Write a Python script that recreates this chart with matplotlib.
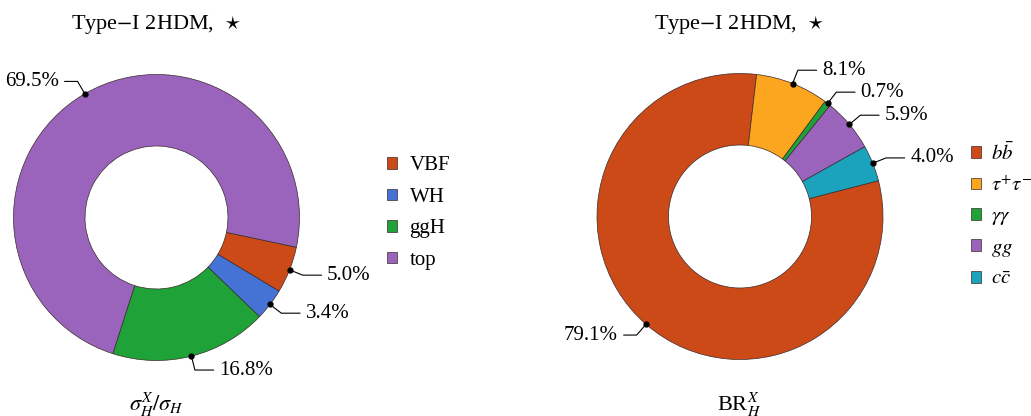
import numpy as np
import matplotlib
matplotlib.use("Agg")
import matplotlib.pyplot as plt

plt.rcParams['font.family'] = ['Liberation Serif', 'DejaVu Serif']
plt.rcParams['mathtext.fontset'] = 'stix'

# production cross sections (left) and decay branching ratios (right), in %
prod_labels = ['VBF', 'WH', 'ggH', 'top']
prod_values = [5.0, 3.4, 16.8, 69.5]
prod_colors = ['#cc4a18', '#4573d5', '#1fa237', '#9a64bd']

decay_labels = [r'$b\bar{b}$', r'$\tau^{+}\tau^{-}$', r'$\gamma\gamma$', r'$gg$', r'$c\bar{c}$']
decay_values = [79.1, 8.1, 0.7, 5.9, 4.0]
decay_colors = ['#cc4a18', '#fba61e', '#1fa237', '#9a64bd', '#1ba2bd']

title = r'Type$-$I 2HDM,  $\star$'
xlabels = [r'$\sigma_H^X/\sigma_H$', r'BR$_H^X$']

W, H = 1031, 416
R = 143  # pie radius in pixels
FS = 15

fig = plt.figure(figsize=(W / 100, H / 100), dpi=100)


def make_axes(cx, cy):
    half = 1.5 * R
    ax = fig.add_axes([(cx - half) / W, (H - cy - half) / H, 2 * half / W, 2 * half / H])
    return ax


def donut(ax, values, colors, start):
    wedges, _ = ax.pie(values, colors=colors, startangle=start, counterclock=False,
                       wedgeprops=dict(width=0.5, edgecolor='#3a2a2a', linewidth=0.5))
    ax.set_xlim(-1.5, 1.5)
    ax.set_ylim(-1.5, 1.5)
    ax.set_aspect('auto')
    for w, v in zip(wedges, values):
        ang = (w.theta1 + w.theta2) / 2
        x, y = np.cos(np.deg2rad(ang)), np.sin(np.deg2rad(ang))
        s = 1 if x >= 0 else -1
        off = 0.17 if s > 0 else 0.13
        ax.plot(x, y, 'o', color='k', ms=3.5, zorder=5)
        ax.annotate(f'{v:.1f}%', xy=(x, y), xytext=(1.1 * x + off * s, 1.1 * y),
                    ha='left' if s > 0 else 'right', va='center', fontsize=FS,
                    arrowprops=dict(arrowstyle='-', color='k', lw=0.8, shrinkB=0,
                                    connectionstyle=f'angle,angleA=0,angleB={ang}'))
    return wedges


ax1 = make_axes(156.5, 217.5)
w1 = donut(ax1, prod_values, prod_colors, -12)
ax1.legend(w1, prod_labels, loc='center left', bbox_to_anchor=(387 / W, 1 - 213 / H),
           bbox_transform=fig.transFigure, frameon=False, fontsize=FS, borderpad=0,
           borderaxespad=0, handlelength=0.48, handleheight=0.48, handletextpad=0.6,
           labelspacing=0.6)

ax2 = make_axes(740, 216.5)
w2 = donut(ax2, decay_values, decay_colors, 14.5)
ax2.legend(w2, decay_labels, loc='center left', bbox_to_anchor=(971 / W, 1 - 215.5 / H),
           bbox_transform=fig.transFigure, frameon=False, fontsize=FS, borderpad=0,
           borderaxespad=0, handlelength=0.48, handleheight=0.48, handletextpad=0.5,
           labelspacing=0.55)

for cx, lab in zip([156.5, 739], xlabels):
    fig.text(cx / W, 1 - 29 / H, title, ha='center', va='baseline', fontsize=16)
    fig.text(cx / W, 1 - 411 / H, lab, ha='center', va='baseline', fontsize=16)

fig.savefig('out.png', dpi=100)
